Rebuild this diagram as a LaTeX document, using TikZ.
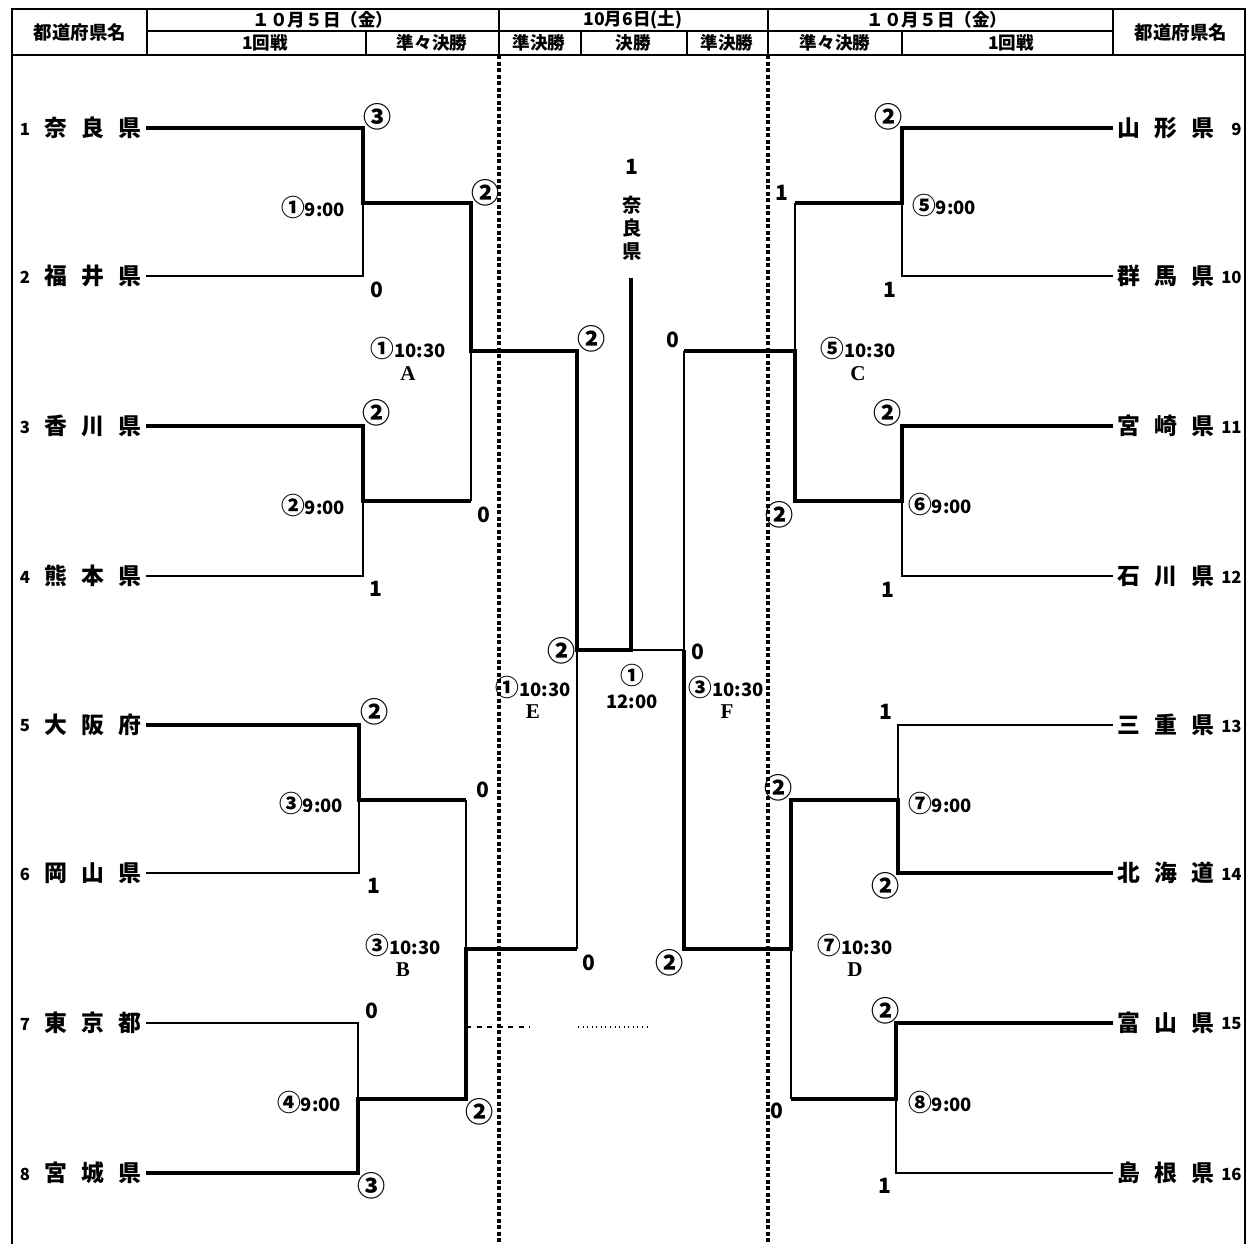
\documentclass[tikz,border=0pt]{standalone}
\usepackage{fontspec}
\newfontfamily\jp{Noto Sans CJK JP}
\newfontfamily\lserif{Liberation Serif}
\newcommand\kenmei[3]{#1\kern8pt#2\kern8pt#3}
\newcommand\maru[1]{{\fontsize{16}{16}\selectfont#1}}
\newcommand\tmaru[1]{{\fontsize{13.5}{13.5}\selectfont#1}}

\begin{document}
\begin{tikzpicture}[x=0.02cm,y=-0.02cm,line join=miter,
  win/.style={line width=2.5pt},
  lose/.style={line width=1pt},
  rule/.style={line width=1.2pt},
  frame/.style={line width=1.5pt},
  daysep/.style={line width=1.9pt,dash pattern=on 2.4pt off 1.3pt},
  head/.style={font=\jp\bfseries\fontsize{10}{12}\selectfont,inner sep=0pt},
  team/.style={font=\jp\bfseries\fontsize{13}{15}\selectfont,inner sep=2.5pt},
  seed/.style={font=\jp\bfseries\fontsize{9.5}{10}\selectfont,inner sep=0pt},
  score/.style={font=\jp\bfseries\fontsize{12}{13}\selectfont,inner sep=0pt},
  time/.style={font=\jp\bfseries\fontsize{10.5}{12}\selectfont,inner sep=0pt},
  court/.style={font=\lserif\bfseries\fontsize{12}{13}\selectfont,inner sep=0pt}]
\useasboundingbox (0,0) rectangle (1249,1244);

% header
\draw[frame] (12,1244) -- (12,9) -- (1245,9) -- (1245,1244);
\draw[rule] (12,55) -- (1245,55);
\draw[rule] (147,31) -- (1113,31);
\foreach \x in {147,499,768,1113} \draw[rule] (\x,9) -- (\x,55);
\foreach \x in {366,581,687,902} \draw[rule] (\x,31) -- (\x,55);
\foreach \x in {499,768} \draw[daysep] (\x,55) -- (\x,1244);
\node[head,font=\jp\bfseries\fontsize{10.5}{12}\selectfont] (hl) at (80,32) {都道府県名};
\node[head,font=\jp\bfseries\fontsize{10.5}{12}\selectfont] (hr) at (1181,32) {都道府県名};
\node[head] (d1) at (323,20) {１０月５日（金）};
\node[head] (d2) at (633,20) {10月6日(土)};
\node[head] (d3) at (937,20) {１０月５日（金）};
\node[head] (r1) at (265,43) {1回戦};
\node[head] (r2) at (432,43) {準々決勝};
\node[head] (r3) at (539,43) {準決勝};
\node[head] (r4) at (633,43) {決勝};
\node[head] (r5) at (727,43) {準決勝};
\node[head] (r6) at (835,43) {準々決勝};
\node[head] (r7) at (1011,43) {1回戦};

% teams
\node[team,anchor=east] (t1) at (146,128) {\kenmei{奈}{良}{県}};
\node[team,anchor=east] (t2) at (146,276) {\kenmei{福}{井}{県}};
\node[team,anchor=east] (t3) at (146,426) {\kenmei{香}{川}{県}};
\node[team,anchor=east] (t4) at (146,576) {\kenmei{熊}{本}{県}};
\node[team,anchor=east] (t5) at (146,725) {\kenmei{大}{阪}{府}};
\node[team,anchor=east] (t6) at (146,873) {\kenmei{岡}{山}{県}};
\node[team,anchor=east] (t7) at (146,1023) {\kenmei{東}{京}{都}};
\node[team,anchor=east] (t8) at (146,1173) {\kenmei{宮}{城}{県}};
\node[team,anchor=west] (t9) at (1113,128) {\kenmei{山}{形}{県}};
\node[team,anchor=west] (t10) at (1113,276) {\kenmei{群}{馬}{県}};
\node[team,anchor=west] (t11) at (1113,426) {\kenmei{宮}{崎}{県}};
\node[team,anchor=west] (t12) at (1113,576) {\kenmei{石}{川}{県}};
\node[team,anchor=west] (t13) at (1113,725) {\kenmei{三}{重}{県}};
\node[team,anchor=west] (t14) at (1113,873) {\kenmei{北}{海}{道}};
\node[team,anchor=west] (t15) at (1113,1023) {\kenmei{富}{山}{県}};
\node[team,anchor=west] (t16) at (1113,1173) {\kenmei{島}{根}{県}};
\foreach \n/\y in {1/129,2/277,3/427,4/577,5/726,6/874,7/1024,8/1174}
  \node[seed] (n\n) at (25,\y) {\n};
\foreach \n/\y in {9/129,10/277,11/427,12/577,13/726,14/874,15/1024,16/1174}
  \node[seed,anchor=east] (n\n) at (1242,\y) {\n};

% joints
\coordinate (m1) at (363,203);
\coordinate (m2) at (363,501);
\coordinate (m3) at (359,800);
\coordinate (m4) at (358,1099);
\coordinate (qa) at (471,351);
\coordinate (qb) at (466,949);
\coordinate (se) at (577,650);
\coordinate (fin) at (631,650);
\coordinate (top) at (631,278);
\coordinate (sf) at (684,650);
\coordinate (qc) at (795,351);
\coordinate (qd) at (791,949);
\coordinate (m5) at (902,203);
\coordinate (m6) at (902,501);
\coordinate (m7) at (898,800);
\coordinate (m8) at (896,1099);

% losing lines
\draw[lose] (t2.east) -| (m1);
\draw[lose] (t4.east) -| (m2);
\draw[lose] (t6.east) -| (m3);
\draw[lose] (t7.east) -| (m4);
\draw[lose] (m2 -| qa) -- (qa);
\draw[lose] (m3 -| qb) -- (qb);
\draw[lose] (qb -| se) -- (se);
\draw[lose] (t10.west) -| (m5);
\draw[lose] (t12.west) -| (m6);
\draw[lose] (t13.west) -| (m7);
\draw[lose] (t16.west) -| (m8);
\draw[lose] (m5 -| qc) -- (qc);
\draw[lose] (m8 -| qd) -- (qd);
\draw[lose] (qc -| sf) -- (sf) -- (fin);
\draw[line width=0.6pt,dashed] (466,1027) -- (530,1027);
\draw[line width=0.6pt,dotted] (578,1027) -- (650,1027);

% winning lines
\draw[win] (t1.east) -| (m1) -| (qa) -| (se) -- (fin) -- (top);
\draw[win] (t3.east) -| (m2) -- (m2 -| qa);
\draw[win] (t5.east) -| (m3) -- (m3 -| qb);
\draw[win] (t8.east) -| (m4) -| (qb) -- (qb -| se);
\draw[win] (t9.west) -| (m5) -- (m5 -| qc);
\draw[win] (t11.west) -| (m6) -| (qc) -- (qc -| sf);
\draw[win] (t14.west) -| (m7) -| (qd) -| (sf);
\draw[win] (t15.west) -| (m8) -- (m8 -| qd);

% champion
\node[score] (c1) at (632,167) {1};
\node[head,font=\jp\bfseries\fontsize{11}{13}\selectfont,align=center] (cn) at (632,228) {奈\\良\\県};

% scores
\node[score] (s1) at (378,117) {\maru{③}};
\node[score] (s2) at (377,290) {0};
\node[score] (s3) at (377,413) {\maru{②}};
\node[score] (s4) at (376,589) {1};
\node[score] (s5) at (375,712) {\maru{②}};
\node[score] (s6) at (374,886) {1};
\node[score] (s7) at (372,1011) {0};
\node[score] (s8) at (372,1186) {\maru{③}};
\node[score] (qa1) at (486,193) {\maru{②}};
\node[score] (qa2) at (484,515) {0};
\node[score] (qb1) at (483,790) {0};
\node[score] (qb2) at (480,1112) {\maru{②}};
\node[score] (se1) at (592,339) {\maru{②}};
\node[score] (se2) at (589,963) {0};
\node[score] (fi1) at (562,651) {\maru{②}};
\node[score] (fi2) at (698,652) {0};
\node[score] (sf1) at (673,340) {0};
\node[score] (sf2) at (670,963) {\maru{②}};
\node[score] (qc1) at (782,193) {1};
\node[score] (qc2) at (780,515) {\maru{②}};
\node[score] (qd1) at (779,788) {\maru{②}};
\node[score] (qd2) at (777,1111) {0};
\node[score] (s9) at (889,117) {\maru{②}};
\node[score] (s10) at (890,290) {1};
\node[score] (s11) at (888,413) {\maru{②}};
\node[score] (s12) at (888,590) {1};
\node[score] (s13) at (886,712) {1};
\node[score] (s14) at (886,886) {\maru{②}};
\node[score] (s15) at (886,1011) {\maru{②}};
\node[score] (s16) at (885,1186) {1};

% match times
\node[time] (g1) at (313,207) {\tmaru{①}9:00};
\node[time] (g2) at (313,505) {\tmaru{②}9:00};
\node[time] (g3) at (311,803) {\tmaru{③}9:00};
\node[time] (g4) at (309,1102) {\tmaru{④}9:00};
\node[time] (g5) at (944,205) {\tmaru{⑤}9:00};
\node[time] (g6) at (940,504) {\tmaru{⑥}9:00};
\node[time] (g7) at (940,803) {\tmaru{⑦}9:00};
\node[time] (g8) at (940,1102) {\tmaru{⑧}9:00};
\node[time] (ga) at (408,348) {\tmaru{①}10:30};
\node[time] (gb) at (403,945) {\tmaru{③}10:30};
\node[time] (gc) at (858,348) {\tmaru{⑤}10:30};
\node[time] (gd) at (855,945) {\tmaru{⑦}10:30};
\node[time] (ge) at (533,687) {\tmaru{①}10:30};
\node[time] (gf) at (726,687) {\tmaru{③}10:30};
\node[time] (gz) at (632,675) {\tmaru{①}};
\node[time] (gzt) at (632,702) {12:00};
\node[court] (ca) at (408,374) {A};
\node[court] (cb) at (403,970) {B};
\node[court] (cc) at (858,374) {C};
\node[court] (cd) at (855,970) {D};
\node[court] (ce) at (533,712) {E};
\node[court] (cf) at (727,712) {F};
\end{tikzpicture}
\end{document}
